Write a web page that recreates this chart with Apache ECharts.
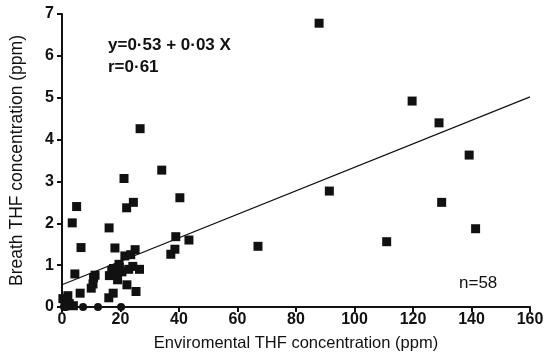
<!DOCTYPE html>
<html>
<head>
<meta charset="utf-8">
<script src="https://cdn.jsdelivr.net/npm/echarts@6/dist/echarts.min.js"></script>
<style>html,body{margin:0;padding:0;background:#fff}#c{width:554px;height:358px}</style>
</head>
<body>
<div id="c"></div>
<script>
// Environmental THF (ppm) vs breath THF (ppm)
const pointsX = [87.9,119.7,128.9,139.2,91.4,129.8,141.4,111.0,67.0,
  26.7,34.1,40.3,21.2,24.4,22.1,16.1,38.9,43.4,38.6,37.2,18.1,25.0,21.5,24.2,17.0,18.1,20.5,16.2,22.2,25.3,17.5,16.0,
  5.0,3.5,6.5,4.4,11.3,10.6,6.2,2.0,1.0,2.5,3.9,
  19.6,17.6,22.8,19.0,10.0,0.3,19.5,23.5,26.5,10.8];
const pointsY = [6.78,4.92,4.40,3.63,2.77,2.50,1.87,1.56,1.45,
  4.26,3.27,2.61,3.07,2.50,2.37,1.89,1.68,1.60,1.38,1.26,1.41,1.37,1.22,0.97,0.88,0.78,0.84,0.75,0.53,0.37,0.33,0.22,
  2.40,2.01,1.42,0.79,0.76,0.55,0.33,0.27,0.11,0.08,0.03,
  0.95,0.92,0.90,0.65,0.45,0.20,1.02,1.25,0.90,0.70];
const zeroX = [0.7,1.5,7.2,12.3,20.2];
const zeroY = [0,0,0,0,0];
const lineX = [0,160];
const lineY = [0.53,5.02];
const xTicks = [0,20,40,60,80,100,120,140,160];
const yTicks = [0,1,2,3,4,5,6,7];
const eqText = 'y=0·53 + 0·03 X';
const rText = 'r=0·61';
const nText = 'n=58';

const chart = echarts.init(document.getElementById('c'), null, {renderer:'canvas'});
const ink = '#111';
const font = 'Liberation Sans, Arial, sans-serif';
chart.setOption({
  backgroundColor:'#fff',
  animation:false,
  grid:{left:62,right:24,top:14,bottom:51},
  xAxis:{type:'value',min:xTicks[0],max:xTicks[xTicks.length-1],interval:20,
    name:'Enviromental THF concentration (ppm)',nameLocation:'middle',nameGap:28,
    nameTextStyle:{color:ink,fontSize:16.5,fontFamily:font},
    axisLine:{lineStyle:{color:ink,width:2}},
    axisTick:{inside:false,length:5,lineStyle:{color:ink,width:2}},
    axisLabel:{color:ink,fontSize:16,fontWeight:'bold',fontFamily:font,margin:5},
    splitLine:{show:false}},
  yAxis:{type:'value',min:yTicks[0],max:yTicks[yTicks.length-1],interval:1,
    name:'Breath THF concentration (ppm)',nameLocation:'middle',nameGap:36,nameRotate:90,
    nameTextStyle:{color:ink,fontSize:17.5,fontFamily:font},
    axisLine:{show:true,lineStyle:{color:ink,width:2}},
    axisTick:{show:true,inside:false,length:5,lineStyle:{color:ink,width:2}},
    axisLabel:{color:ink,fontSize:16,fontWeight:'bold',fontFamily:font,margin:8},
    splitLine:{show:false}},
  series:[
    {type:'line',data:lineX.map((x,i)=>[x,lineY[i]]),symbol:'none',
      lineStyle:{color:ink,width:1.2},z:1},
    {type:'scatter',data:pointsX.map((x,i)=>[x,pointsY[i]]),symbol:'rect',symbolSize:9,
      itemStyle:{color:ink,opacity:1},clip:false,z:3},
    {type:'scatter',data:zeroX.map((x,i)=>[x,zeroY[i]]),symbol:'circle',symbolSize:8,
      itemStyle:{color:ink,opacity:1},clip:false,z:3}
  ],
  graphic:[
    {type:'text',left:108,top:37,style:{text:eqText,fill:ink,font:'bold 17px '+font}},
    {type:'text',left:108,top:59,style:{text:rText,fill:ink,font:'bold 17px '+font}},
    {type:'text',left:459,top:275,style:{text:nText,fill:ink,font:'17px '+font}}
  ]
});
</script>
</body>
</html>
